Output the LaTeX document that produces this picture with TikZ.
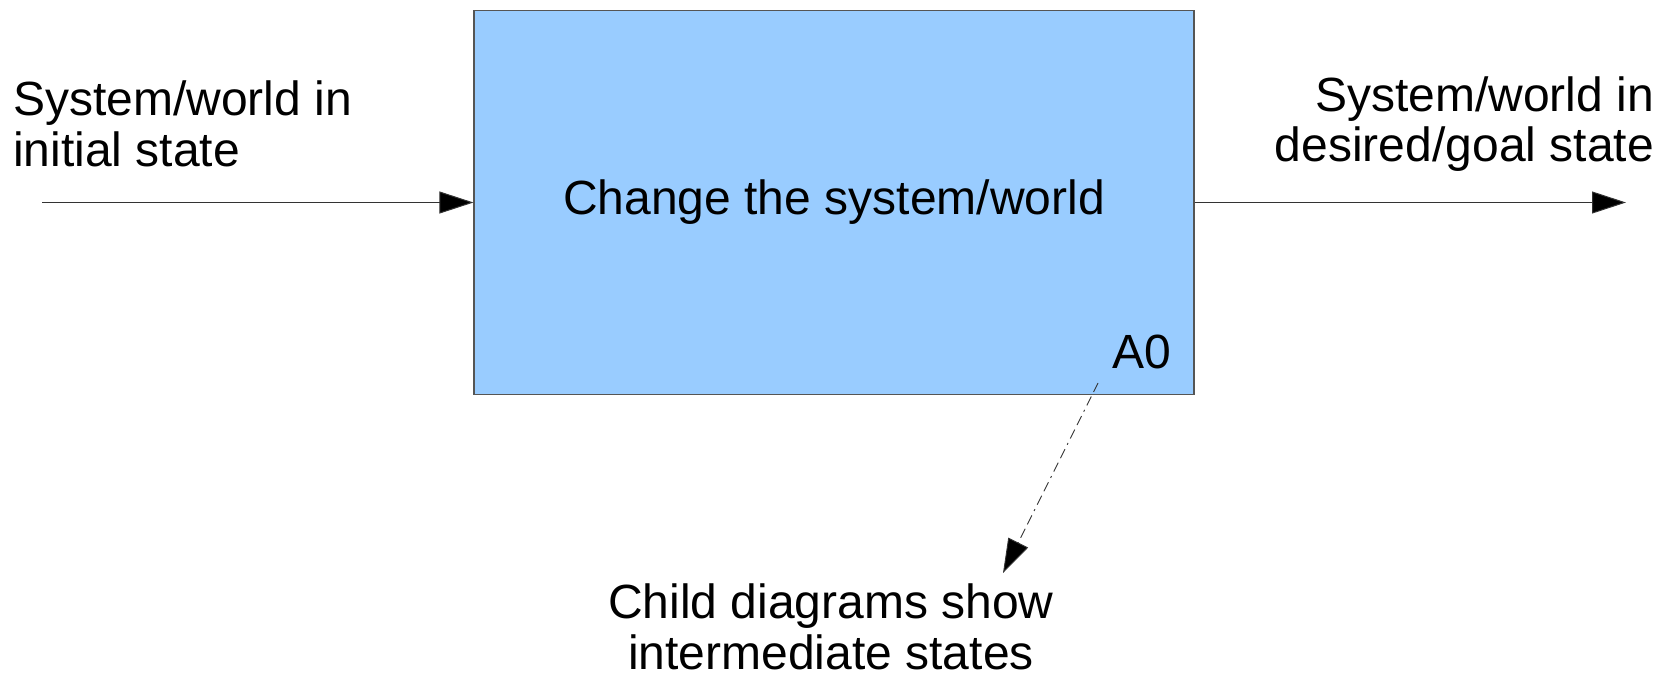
\documentclass[tikz,border=0pt]{standalone}
\usepackage{fontspec}
\setmainfont{Liberation Sans}
\usetikzlibrary{arrows.meta}
\definecolor{boxblue}{HTML}{99CCFF}
\definecolor{edgegray}{HTML}{555555}
\begin{document}
\begin{tikzpicture}[x=1pt,y=-1pt,
  lbl/.style={font=\fontsize{48}{50.5}\selectfont, inner sep=0pt},
  flow/.style={draw=black!80, line width=1pt, -{Triangle[length=34pt,width=22pt,fill=black]}},
  actbox/.style={draw=edgegray, line width=1.2pt, fill=boxblue, minimum width=720pt, minimum height=384pt, inner sep=0pt, font=\fontsize{48}{50.5}\selectfont}]
\useasboundingbox (0,0) rectangle (1667,675);
\node[actbox] (box) at (834,202.5) {Change the system/world};
\node[lbl, anchor=east] (a0) at (1171,352) {A0};
\node[lbl, align=left, anchor=west] (inlbl) at (13,124) {System/world in\\initial state};
\node[lbl, align=right, anchor=east] (outlbl) at (1654,124) {System/world in\\desired/goal state};
\node[lbl, align=center] (child) at (831,627) {Child diagrams show\\intermediate states};
\coordinate (start) at (42,202.5);
\coordinate (end) at (1626,202.5);
\coordinate (ref) at (1098,383);
\coordinate (reftip) at (1003,573);
\draw[flow] (start) -- (box.west);
\draw[flow] (box.east) -- (end);
\draw[flow, line width=0.9pt, dash pattern=on 10pt off 5pt on 10pt off 5pt on 2pt off 5pt] (ref) -- (reftip);
\end{tikzpicture}
\end{document}
